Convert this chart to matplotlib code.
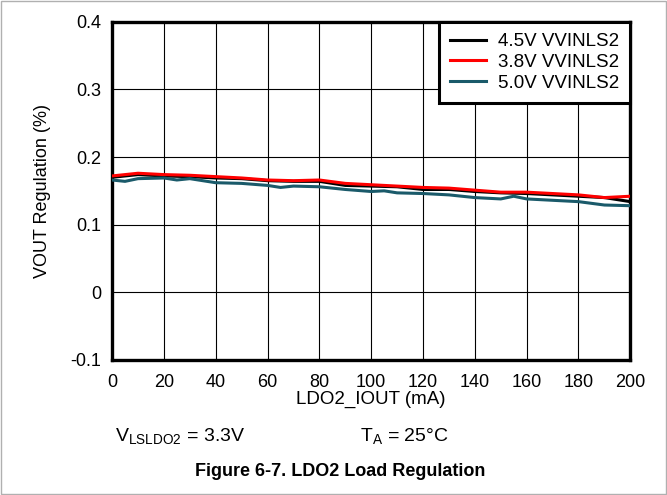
import matplotlib
matplotlib.use("Agg")
import matplotlib.pyplot as plt
from matplotlib.patches import Rectangle

plt.rcParams['font.family'] = ['Liberation Sans', 'DejaVu Sans']

iout = [0, 10, 20, 30, 40, 50, 60, 70, 80, 90, 100, 110, 120, 130, 140, 150, 160, 170, 180, 190, 200]
v45 = [0.170, 0.174, 0.172, 0.171, 0.169, 0.168, 0.165, 0.164, 0.164, 0.158, 0.157, 0.156, 0.152, 0.152, 0.149, 0.147, 0.146, 0.144, 0.142, 0.140, 0.134]
v38 = [0.172, 0.176, 0.174, 0.173, 0.171, 0.169, 0.166, 0.165, 0.166, 0.161, 0.159, 0.157, 0.155, 0.154, 0.151, 0.148, 0.148, 0.146, 0.144, 0.140, 0.142]
iout50 = [0, 5, 10, 20, 25, 30, 40, 50, 60, 65, 70, 80, 90, 100, 105, 110, 120, 130, 140, 150, 155, 160, 170, 180, 190, 200]
v50 = [0.166, 0.164, 0.168, 0.169, 0.166, 0.168, 0.162, 0.161, 0.158, 0.155, 0.157, 0.156, 0.152, 0.149, 0.150, 0.147, 0.146, 0.144, 0.140, 0.138, 0.142, 0.138, 0.136, 0.134, 0.129, 0.128]

xticks = [0, 20, 40, 60, 80, 100, 120, 140, 160, 180, 200]
yticks = [-0.1, 0, 0.1, 0.2, 0.3, 0.4]
ytick_labels = ['-0.1', '0', '0.1', '0.2', '0.3', '0.4']

fig = plt.figure(figsize=(6.67, 4.95), dpi=100)
fig.patches.append(Rectangle((0.002, 0.002), 0.996, 0.996, transform=fig.transFigure,
                             fill=False, edgecolor='#b0b0b0', linewidth=1))
ax = fig.add_axes([0.168, 0.273, 0.777, 0.683])

ax.plot(iout, v45, color='black', lw=2.2, label='4.5V VVINLS2', zorder=3)
ax.plot(iout, v38, color='#ff0000', lw=2.2, label='3.8V VVINLS2', zorder=4)
ax.plot(iout50, v50, color='#1a5a6a', lw=2.2, label='5.0V VVINLS2', zorder=5)

ax.set_xlim(0, 200)
ax.set_ylim(-0.1, 0.4)
ax.set_xticks(xticks)
ax.set_xticklabels([str(t) for t in xticks])
ax.set_yticks(yticks)
ax.set_yticklabels(ytick_labels)
ax.tick_params(axis='x', length=0, labelsize=13, pad=10)
ax.tick_params(axis='y', length=0, labelsize=13, pad=8)
ax.grid(True, color='black', lw=0.8)
for s in ax.spines.values():
    s.set_linewidth(2.4)

ax.set_xlabel('LDO2_IOUT (mA)', fontsize=13.5, labelpad=0)
ax.set_ylabel('VOUT Regulation (%)', fontsize=13, labelpad=14)

leg = ax.legend(loc='upper right', fontsize=13.5, frameon=True, fancybox=False,
                borderaxespad=0.0, handlelength=1.9, labelspacing=0.2, borderpad=0.6,
                handletextpad=0.65)
leg.get_frame().set_edgecolor('black')
leg.get_frame().set_linewidth(2.2)
leg.get_frame().set_alpha(1)

fig.text(0.172, 0.118, r'V$_{\mathregular{LSLDO2}}$ = 3.3V', fontsize=14, va='center', ha='left')
fig.text(0.54, 0.118, r'T$_{\mathregular{A}}$ = 25°C', fontsize=14, va='center', ha='left')
fig.text(0.51, 0.047, 'Figure 6-7. LDO2 Load Regulation', fontsize=13, fontweight='bold',
         va='center', ha='center')

fig.savefig('out.png', dpi=100)
